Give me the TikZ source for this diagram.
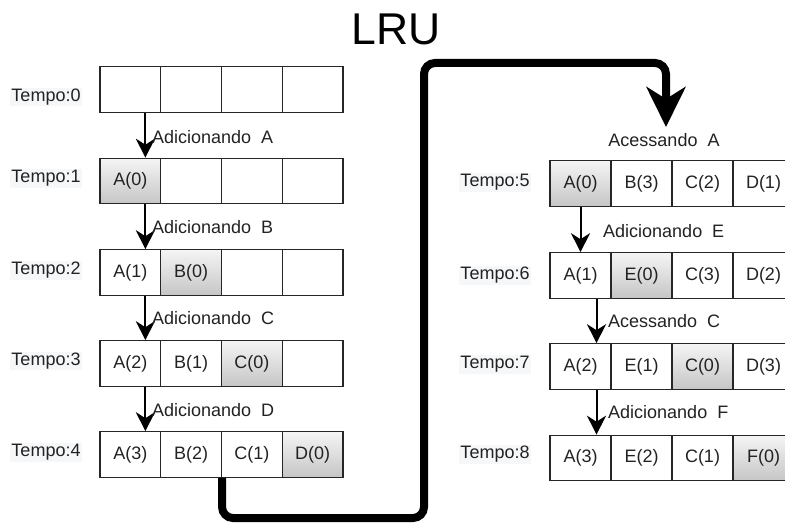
\documentclass[tikz,border=0pt]{standalone}
\usepackage{fontspec}
\setmainfont{Liberation Sans}
\usetikzlibrary{arrows.meta}
\definecolor{txt}{RGB}{34,34,34}
\definecolor{lblbg}{RGB}{246,247,249}
\begin{document}
\begin{tikzpicture}[x=1pt,y=-1pt,
  cellL/.style={draw=black!85, line width=1.1pt, minimum width=60.75pt, minimum height=45.5pt, inner sep=0pt, font=\fontsize{18}{21}\selectfont, text=txt},
  cellR/.style={cellL, minimum width=61pt},
  hot/.style={top color=gray!8, bottom color=gray!45},
  tlabel/.style={font=\fontsize{18}{21}\selectfont, text=txt, fill=lblbg, inner sep=1pt},
  oplabel/.style={font=\fontsize{18}{21}\selectfont, text=txt, inner sep=0pt, anchor=west},
  smallarrow/.style={line width=2pt, draw=black, -{Stealth[length=19pt,width=19pt,inset=6pt]}},
  bigarrow/.style={line width=8pt, draw=black, rounded corners=11pt, -{Stealth[length=40pt,width=39pt,inset=12pt]}}]
\useasboundingbox (0,0) rectangle (785,524);

% title
\node[font=\fontsize{44.5}{50}\selectfont, text=black, inner sep=0pt] (title) at (396,29) {LRU};

% ---------- left column ----------
\node[cellL] (r0c1) at (130.375,89.5) {};
\node[cellL] (r0c2) at (191.125,89.5) {};
\node[cellL] (r0c3) at (251.875,89.5) {};
\node[cellL] (r0c4) at (312.625,89.5) {};

\node[cellL,hot] (r1c1) at (130.375,181) {A(0)};
\node[cellL] (r1c2) at (191.125,181) {};
\node[cellL] (r1c3) at (251.875,181) {};
\node[cellL] (r1c4) at (312.625,181) {};

\node[cellL] (r2c1) at (130.375,272.5) {A(1)};
\node[cellL,hot] (r2c2) at (191.125,272.5) {B(0)};
\node[cellL] (r2c3) at (251.875,272.5) {};
\node[cellL] (r2c4) at (312.625,272.5) {};

\node[cellL] (r3c1) at (130.375,363.5) {A(2)};
\node[cellL] (r3c2) at (191.125,363.5) {B(1)};
\node[cellL,hot] (r3c3) at (251.875,363.5) {C(0)};
\node[cellL] (r3c4) at (312.625,363.5) {};

\node[cellL] (r4c1) at (130.375,454.5) {A(3)};
\node[cellL] (r4c2) at (191.125,454.5) {B(2)};
\node[cellL] (r4c3) at (251.875,454.5) {C(1)};
\node[cellL,hot] (r4c4) at (312.625,454.5) {D(0)};

\node[tlabel] (t0) at (46,97) {Tempo:0};
\node[tlabel] (t1) at (46,178.5) {Tempo:1};
\node[tlabel] (t2) at (46,270.5) {Tempo:2};
\node[tlabel] (t3) at (46,361) {Tempo:3};
\node[tlabel] (t4) at (46,452.5) {Tempo:4};

\draw[smallarrow] ([xshift=15pt]r0c1.south) -- ([xshift=15pt]r1c1.north);
\draw[smallarrow] ([xshift=15pt]r1c1.south) -- ([xshift=15pt]r2c1.north);
\draw[smallarrow] ([xshift=15pt]r2c1.south) -- ([xshift=15pt]r3c1.north);
\draw[smallarrow] ([xshift=15pt]r3c1.south) -- ([xshift=15pt]r4c1.north);

\node[oplabel] (opA) at (152,137.5) {Adicionando~~A};
\node[oplabel] (opB) at (152,227.5) {Adicionando~~B};
\node[oplabel] (opC) at (152,318.5) {Adicionando~~C};
\node[oplabel] (opD) at (152,410) {Adicionando~~D};

% ---------- right column ----------
\node[cellR,hot] (r5c1) at (580.5,183.5) {A(0)};
\node[cellR] (r5c2) at (641.5,183.5) {B(3)};
\node[cellR] (r5c3) at (702.5,183.5) {C(2)};
\node[cellR] (r5c4) at (763.5,183.5) {D(1)};

\node[cellR] (r6c1) at (580.5,275.5) {A(1)};
\node[cellR,hot] (r6c2) at (641.5,275.5) {E(0)};
\node[cellR] (r6c3) at (702.5,275.5) {C(3)};
\node[cellR] (r6c4) at (763.5,275.5) {D(2)};

\node[cellR] (r7c1) at (580.5,366.5) {A(2)};
\node[cellR] (r7c2) at (641.5,366.5) {E(1)};
\node[cellR,hot] (r7c3) at (702.5,366.5) {C(0)};
\node[cellR] (r7c4) at (763.5,366.5) {D(3)};

\node[cellR] (r8c1) at (580.5,458) {A(3)};
\node[cellR] (r8c2) at (641.5,458) {E(2)};
\node[cellR] (r8c3) at (702.5,458) {C(1)};
\node[cellR,hot] (r8c4) at (763.5,458) {F(0)};

\node[tlabel] (t5) at (495,182.5) {Tempo:5};
\node[tlabel] (t6) at (495,275.5) {Tempo:6};
\node[tlabel] (t7) at (495,364.5) {Tempo:7};
\node[tlabel] (t8) at (495,454.5) {Tempo:8};

\draw[smallarrow] (r5c1.south) -- (r6c1.north);
\draw[smallarrow] ([xshift=16pt]r6c1.south) -- ([xshift=16pt]r7c1.north);
\draw[smallarrow] ([xshift=16pt]r7c1.south) -- ([xshift=16pt]r8c1.north);

\node[font=\fontsize{18}{21}\selectfont, text=txt, inner sep=0pt] (opAA) at (664,140) {Acessando~~A};
\node[oplabel] (opE) at (603,231.5) {Adicionando~~E};
\node[oplabel] (opCC) at (608,321.5) {Acessando~~C};
\node[oplabel] (opF) at (608,412.5) {Adicionando~~F};

% ---------- big connector ----------
\coordinate (bend1) at (424,518);
\coordinate (bend2) at (424,63);
\coordinate (tipA) at (666,127);
\draw[bigarrow] (r4c2.south east) |- (bend1) -- (bend2) -| (tipA);
\end{tikzpicture}
\end{document}
